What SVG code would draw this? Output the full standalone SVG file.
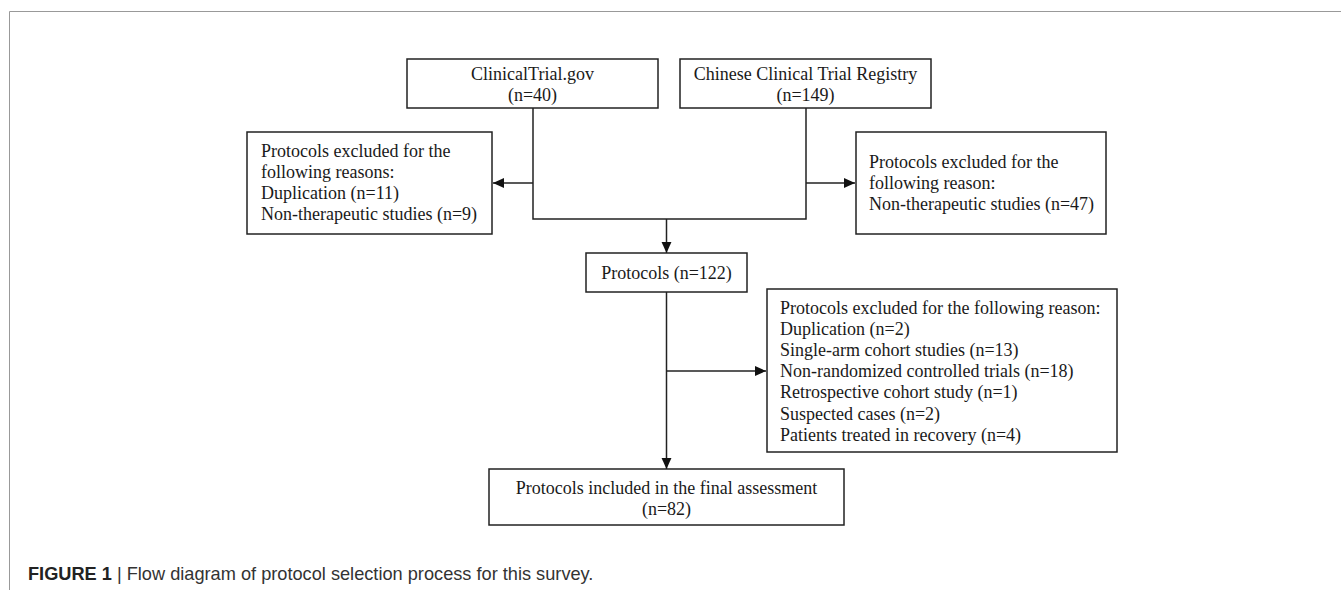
<svg xmlns="http://www.w3.org/2000/svg" width="1341" height="590" viewBox="0 0 1341 590">
<style>
.box{fill:#fff;stroke:#222;stroke-width:1.5}
.t{font-family:"Liberation Serif","Times New Roman",serif;font-size:18px;fill:#1a1a1a}
.c{text-anchor:middle}
.ln{fill:none;stroke:#222;stroke-width:1.5}
.cap{font-family:"Liberation Sans",Arial,sans-serif;font-size:18.2px;fill:#333}
</style>
<defs>
<marker id="ah" viewBox="0 0 10 10" refX="10" refY="5" markerWidth="11" markerHeight="11" markerUnits="userSpaceOnUse" orient="auto">
<path d="M0,0.5 L10,5 L0,9.5 z" fill="#111"/>
</marker>
</defs>
<rect width="1341" height="590" fill="#fff"/>
<path d="M9.5,590 V11.5 H1341" fill="none" stroke="#999" stroke-width="1"/>

<g id="connectors">
<path class="ln" d="M533,108 V219 H806 V108"/>
<path class="ln" d="M533,183 H493" marker-end="url(#ah)"/>
<path class="ln" d="M806,183 H855" marker-end="url(#ah)"/>
<path class="ln" d="M666.5,219 V253" marker-end="url(#ah)"/>
<path class="ln" d="M666.5,292 V469" marker-end="url(#ah)"/>
<path class="ln" d="M666.5,371 H766" marker-end="url(#ah)"/>
</g>

<g id="n-ctgov">
<rect class="box" x="407" y="59" width="251" height="49"/>
<text class="t c" x="532.5" y="80">ClinicalTrial.gov</text>
<text class="t c" x="532.5" y="101">(n=40)</text>
</g>
<g id="n-chictr">
<rect class="box" x="680" y="59" width="251" height="49"/>
<text class="t c" x="805.5" y="80">Chinese Clinical Trial Registry</text>
<text class="t c" x="805.5" y="101">(n=149)</text>
</g>
<g id="n-excl1">
<rect class="box" x="247" y="132" width="245" height="102"/>
<text class="t" x="261" y="157">Protocols excluded for the</text>
<text class="t" x="261" y="178">following reasons:</text>
<text class="t" x="261" y="199">Duplication (n=11)</text>
<text class="t" x="261" y="220">Non-therapeutic studies (n=9)</text>
</g>
<g id="n-excl2">
<rect class="box" x="856" y="132" width="250" height="102"/>
<text class="t" x="869" y="168">Protocols excluded for the</text>
<text class="t" x="869" y="189">following reason:</text>
<text class="t" x="869" y="210">Non-therapeutic studies (n=47)</text>
</g>
<g id="n-protocols">
<rect class="box" x="586" y="253" width="161" height="39"/>
<text class="t c" x="666.5" y="279">Protocols (n=122)</text>
</g>
<g id="n-excl3">
<rect class="box" x="767" y="289" width="350" height="163"/>
<text class="t" x="780" y="314">Protocols excluded for the following reason:</text>
<text class="t" x="780" y="335">Duplication (n=2)</text>
<text class="t" x="780" y="356">Single-arm cohort studies (n=13)</text>
<text class="t" x="780" y="377">Non-randomized controlled trials (n=18)</text>
<text class="t" x="780" y="398">Retrospective cohort study (n=1)</text>
<text class="t" x="780" y="420">Suspected cases (n=2)</text>
<text class="t" x="780" y="441">Patients treated in recovery (n=4)</text>
</g>
<g id="n-final">
<rect class="box" x="489" y="469" width="355" height="56"/>
<text class="t c" x="666.5" y="494">Protocols included in the final assessment</text>
<text class="t c" x="666.5" y="515">(n=82)</text>
</g>

<text class="cap" x="28" y="580"><tspan font-weight="bold" fill="#222">FIGURE 1</tspan> | Flow diagram of protocol selection process for this survey.</text>
</svg>
